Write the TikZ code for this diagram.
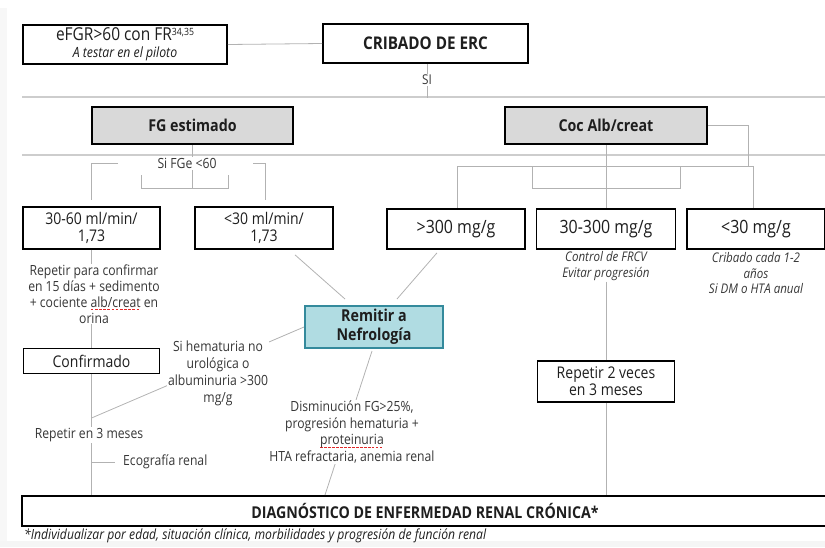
\documentclass[tikz,border=0pt]{standalone}
\usepackage{fontspec}
\setmainfont{Open Sans}[FakeStretch=0.87]
\usetikzlibrary{calc}
\definecolor{linegray}{RGB}{178,178,178}
\definecolor{sepgray}{RGB}{205,205,205}
\definecolor{hdrfill}{RGB}{217,217,217}
\definecolor{tealfill}{RGB}{176,220,226}
\definecolor{tealdraw}{RGB}{52,138,156}
\definecolor{txt}{RGB}{30,30,30}
\definecolor{lbl}{RGB}{55,55,55}
\definecolor{spellred}{RGB}{225,40,40}
\newsavebox\spellbox
\newcommand\spellul[1]{\sbox\spellbox{#1}\rlap{\raisebox{-3.2pt}[0pt][0pt]{\color{spellred}\hbox to \wd\spellbox{\xleaders\hbox{\rule{2.6pt}{1.1pt}\kern1.3pt}\hfill}}}#1}
\begin{document}
\begin{tikzpicture}[x=1pt,y=-1pt,
  box/.style={draw=black, line width=1.7pt, fill=white, inner sep=0pt, align=center, text=txt,
    font=\fontsize{16.1}{17}\selectfont},
  mgbox/.style={box, font=\fontsize{18.3}{20}\selectfont},
  hdr/.style={box, fill=hdrfill, font=\bfseries\fontsize{16.4}{18}\selectfont},
  conn/.style={draw=linegray, line width=0.8pt},
  sep/.style={draw=sepgray, line width=1.3pt},
  lab/.style={align=center, text=lbl, inner sep=1pt, font=\fontsize{14}{16}\selectfont},
  wlab/.style={lab, fill=white},
  ilab/.style={lab, font=\itshape\fontsize{13.3}{15.5}\selectfont}
]
\useasboundingbox (0,0) rectangle (825,547);
\fill[black!4] (0,541) rectangle (825,547);
\fill[black!3] (0,8) rectangle (7,541);

% separators
\draw[sep] (22,97) -- (825,97);
\draw[sep] (22,155) -- (825,155);

% top row
\node[box, font=\fontsize{17.8}{18}\selectfont, minimum width=204pt, minimum height=39pt] (efgr) at (125,44.5)
  {eFGR>60 con FR{\fontsize{10}{10}\selectfont\raisebox{5pt}{34,35}}\\[-1pt]{\itshape\fontsize{14.1}{14}\selectfont A testar en el piloto}};
\node[box, font=\bfseries\fontsize{17.5}{18}\selectfont, minimum width=205pt, minimum height=39pt] (crib) at (425.5,43.5) {CRIBADO DE ERC};
\draw[conn] (efgr.east) -- (crib.west);
\coordinate (siEnd) at ($(crib.south)+(1.5,34)$);
\draw[conn] ($(crib.south)+(1.5,0)$) -- (siEnd);
\node[fill=white, inner sep=1pt, text=lbl, font=\fontsize{13.5}{14}\selectfont] (si) at ($(crib.south)+(1.5,16)$) {SI};

% headers
\node[hdr, minimum width=201pt, minimum height=37pt] (fg) at (192.5,125.5) {FG estimado};
\node[hdr, minimum width=202pt, minimum height=37pt] (coc) at (606,125.5) {Coc Alb/creat};

% second-level boxes
\node[box, minimum width=137pt, minimum height=42pt] (b3060) at (91.5,228) {30-60 ml/min/\\1,73};
\node[box, minimum width=138pt, minimum height=42pt] (blt30) at (264,228) {<30 ml/min/\\1,73};
\node[mgbox, minimum width=138pt, minimum height=40pt] (bgt300) at (456,229) {>300 mg/g};
\node[mgbox, minimum width=139pt, minimum height=40pt] (b30300) at (606,229) {30-300 mg/g};
\node[mgbox, minimum width=138pt, minimum height=40pt] (blt30mg) at (756,229) {<30 mg/g};

% FG branch connectors
\draw[conn] (fg.south) -- ++(0,44);
\draw[conn] (141,175) -- (141,188) -- (228,188) -- (228,175);
\node[fill=white, inner sep=1pt, text=lbl, font=\fontsize{14}{14}\selectfont] (sifge) at (187,163.5) {Si FGe <60};
\draw[conn] (118,163) -- (91.5,163) -- ($(b3060.north)+(0,-6)$);
\draw[conn] (253,163) -- (265,163) -- ($(blt30.north)+(1,-6)$);

% Coc branch connectors
\draw[conn] (coc.south) -- (b30300.north);
\draw[conn] (coc.east) -- (748,125.5) -- (748,166);
\draw[conn] (457,166) -- (753,166);
\draw[conn] (457,166) -- (bgt300.north -| 457,0);
\draw[conn] (753,166) -- (blt30mg.north -| 753,0);
\draw[conn] (532,166) -- (532,188) -- (680,188) -- (680,166);

% Remitir
\node[box, fill=tealfill, draw=tealdraw, line width=2pt, font=\bfseries\fontsize{16.4}{19}\selectfont,
  minimum width=138pt, minimum height=42pt] (rem) at (374,327) {Remitir a\\Nefrología};
\draw[conn] ($(blt30.south)+(31,5)$) -- ($(rem.north)+(-29,-6)$);
\draw[conn] ($(bgt300.south)+(-19,3)$) -- ($(rem.north)+(23,-6)$);

% left column
\node[box, minimum width=136pt, minimum height=25pt] (conf) at (91.5,361) {Confirmado};
\node[box, line width=2pt, font=\bfseries\fontsize{16.3}{18}\selectfont, minimum width=806pt, minimum height=30pt] (diag) at (425,511) {DIAGNÓSTICO DE ENFERMEDAD RENAL CRÓNICA*};
\draw[conn] (b3060.south) -- (conf.north);
\draw[conn] (conf.south) -- (conf.south |- diag.north);
\node[wlab] (rep15) at (94,294) {Repetir para confirmar\\en 15 días + sedimento\\+ cociente \spellul{alb/creat} en\\orina};
\coordinate (hemaEnd) at (91.5,418);
\draw[conn] (rem.west) -- (hemaEnd);
\node[wlab, font=\fontsize{14}{17}\selectfont] (hema) at (218,373.5) {Si hematuria no\\urológica o\\albuminuria >300\\mg/g};
\node[wlab] (rep3) at (89,435) {Repetir en 3 meses};
\coordinate (ecoStart) at (91.5,462);
\draw[conn] (ecoStart) -- ++(23.5,0) coordinate (ecoEnd);
\node[lab, anchor=west] (eco) at ($(ecoEnd)+(7,0)$) {Ecografía renal};

% Remitir -> diagnosis
\draw[conn] ($(rem.south)+(-2,2)$) -- ($(diag.north)+(-100,0)$);
\node[wlab, font=\fontsize{14}{16.7}\selectfont] (dism) at (352,432) {Disminución FG>25\%,\\progresión hematuria +\\\spellul{proteinuria}\\HTA refractaria, anemia renal};

% right column
\node[ilab] (ctrl) at (606,266) {Control de FRCV\\Evitar progresión};
\node[ilab] (crib2) at (756,273.5) {Cribado cada 1-2\\años\\Si DM o HTA anual};
\node[box, minimum width=137pt, minimum height=41pt] (rep2) at (606,381.5) {Repetir 2 veces\\en 3 meses};
\draw[conn] (ctrl.south) -- (rep2.north);
\draw[conn] (rep2.south) -- (diag.north -| rep2.south);

% footnote
\node[anchor=west, inner sep=0pt, text=txt, font=\itshape\fontsize{14}{14}\selectfont] (foot) at (24,536)
  {*Individualizar por edad, situación clínica, morbilidades y progresión de función renal};
\end{tikzpicture}
\end{document}
